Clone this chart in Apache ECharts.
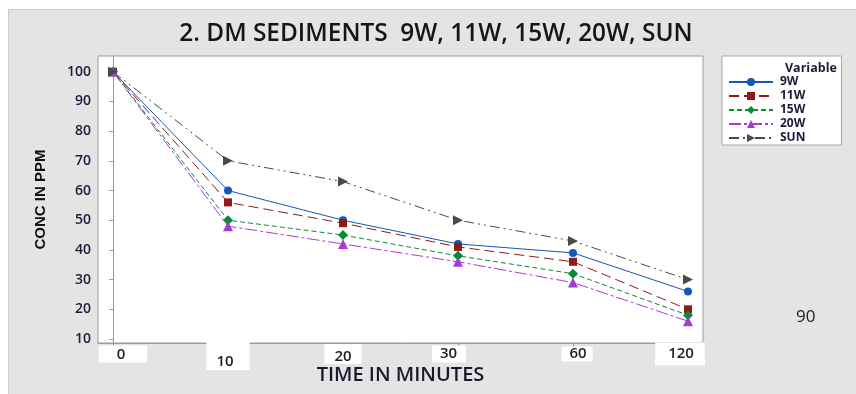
<!DOCTYPE html>
<html>
<head>
<meta charset="utf-8">
<script src="https://cdn.jsdelivr.net/npm/echarts@6/dist/echarts.min.js"></script>
<style>
  html, body { margin: 0; padding: 0; background: #ffffff; }
  #chart { width: 856px; height: 394px; }
</style>
</head>
<body>
<div id="chart"></div>
<script>
// Time points (minutes) shown on the horizontal axis
const timeLabels = ['0', '10', '20', '30', '60', '120'];
// Concentration (ppm) for each lamp / exposure condition
const seriesNames = ['9W', '11W', '15W', '20W', 'SUN'];
const conc9W  = [100, 60, 50, 42, 39, 26];
const conc11W = [100, 56, 49, 41, 36, 20];
const conc15W = [100, 50, 45, 38, 32, 18];
const conc20W = [100, 48, 42, 36, 29, 16];
const concSUN = [100, 70, 63, 50, 43, 30];
const yTicks = [10, 20, 30, 40, 50, 60, 70, 80, 90, 100];

const allValues = [conc9W, conc11W, conc15W, conc20W, concSUN];
const colors = ['#1358b8', '#8f1a1a', '#0a8a38', '#a43cd6', '#4a4a4a'];
const symbols = ['circle', 'rect', 'diamond', 'triangle', 'path://M0,0 L10,5 L0,10 Z'];
const symbolSizes = [8, 8, 10, 10, 10];
const dashes = ['solid', [10, 5], [5, 3], [12, 3, 3, 3], [10, 4, 2, 4, 2, 4]];

const xIdx = timeLabels.map((_, i) => i);

const chart = echarts.init(document.getElementById('chart'), null, { renderer: 'canvas' });

const series = seriesNames.map((name, s) => ({
  name: name,
  type: 'line',
  data: allValues[s].map((v, i) => [xIdx[i], v]),
  symbol: symbols[s],
  symbolSize: symbolSizes[s],
  color: colors[s],
  itemStyle: { color: colors[s] },
  lineStyle: { color: colors[s], width: 1, type: dashes[s] },
  emphasis: { disabled: true },
  animation: false
}));

// white boxes behind each time label
const tickFont = { fontSize: 15, fontWeight: 600, lineHeight: 14, color: '#1e1e1e', fontFamily: 'Open Sans', backgroundColor: '#fff' };
const labelRich = {
  l0: Object.assign({ padding: [2, 22, 0, 18] }, tickFont),
  l1: Object.assign({ padding: [16, 16, 1, 10] }, tickFont),
  l2: Object.assign({ padding: [5, 10, 0, 10] }, tickFont),
  l3: Object.assign({ padding: [1, 9, 1, 8] }, tickFont),
  l4: Object.assign({ padding: [0, 6, 0, 8] }, tickFont),
  l5: Object.assign({ padding: [4, 11, 4, 13] }, tickFont),
  sp8: { width: 8 },
  sp16: { width: 16 },
  sp18: { width: 18 },
  sp20: { width: 20 }
};

chart.setOption({
  backgroundColor: '#ffffff',
  animation: false,
  graphic: [
    {
      type: 'rect', z: -100, silent: true,
      shape: { x: 8.5, y: 9.5, width: 860, height: 400 },
      style: { fill: '#e4e4e4', stroke: '#cdcdcd', lineWidth: 1 }
    },
    {
      type: 'text', silent: true, left: 796, top: 309,
      style: { text: '90', fontSize: 17, fontFamily: 'Open Sans', fill: '#222' }
    }
  ],
  title: [
    {
      text: '2. DM SEDIMENTS  9W, 11W, 15W, 20W, SUN',
      left: 431, top: 17, textAlign: 'center',
      textStyle: { fontSize: 24.4, fontWeight: 600, color: '#161616', fontFamily: 'Open Sans' }
    },
    {
      text: 'Variable',
      left: 780, top: 57,
      textStyle: { fontSize: 12.5, fontWeight: 'bold', color: '#1a1a3a', fontFamily: 'Open Sans' }
    }
  ],
  legend: {
    orient: 'vertical',
    left: 722, top: 56,
    data: seriesNames,
    itemWidth: 44, itemHeight: 10, itemGap: 2,
    padding: [20, 36, 1, 6],
    backgroundColor: '#ffffff',
    borderColor: '#a8a8a8', borderWidth: 1,
    textStyle: { fontSize: 12, lineHeight: 11, fontWeight: 'bold', color: '#1a1a3a', fontFamily: 'Open Sans', padding: [0, 0, 0, 2] },
    selectedMode: false
  },
  grid: {
    left: 98, top: 56, right: 153, bottom: 51,
    outerBoundsMode: 'none',
    containLabel: false,
    show: true, backgroundColor: '#ffffff', borderColor: '#9c9c9c', borderWidth: 1
  },
  xAxis: {
    type: 'value',
    min: -0.1304, max: 5.1304,
    name: 'TIME IN MINUTES',
    nameLocation: 'middle', nameGap: 32,
    nameMoveOverlap: false,
    nameTextStyle: { fontSize: 20, fontWeight: 600, fontFamily: 'Open Sans', color: '#1a1a2e', verticalAlign: 'middle' },
    splitLine: { show: false },
    axisLine: { show: true, onZero: false, lineStyle: { color: '#9c9c9c' } },
    axisTick: { show: true, customValues: xIdx, length: 4, lineStyle: { color: '#9c9c9c' } },
    axisLabel: {
      customValues: xIdx,
      margin: 4,
      formatter: function (v) {
        const i = Math.round(v);
        const t = timeLabels[i];
        if (i === 0) return '{sp20|}{l0|' + t + '}';
        if (i === 3) return '{l3|' + t + '}{sp18|}';
        if (i === 4) return '{sp8|}{l4|' + t + '}';
        if (i === 5) return '{l5|' + t + '}{sp16|}';
        return '{l' + i + '|' + t + '}';
      },
      rich: labelRich
    }
  },
  yAxis: {
    type: 'value',
    min: 8.65, max: 105.3,
    name: 'CONC IN PPM',
    nameLocation: 'middle', nameGap: 50, nameRotate: 90,
    nameMoveOverlap: false,
    nameTextStyle: { fontSize: 15, fontWeight: 'bold', fontFamily: 'Liberation Sans Narrow, Liberation Sans, Arial', color: '#111' },
    splitLine: { show: false },
    axisLine: { show: true, lineStyle: { color: '#9c9c9c' } },
    axisTick: { show: true, customValues: yTicks, length: 4, lineStyle: { color: '#9c9c9c' } },
    axisLabel: { customValues: yTicks, margin: 7, fontSize: 14, fontWeight: 600, fontFamily: 'Open Sans', color: '#1b1b3b' }
  },
  series: series
});
</script>
</body>
</html>
